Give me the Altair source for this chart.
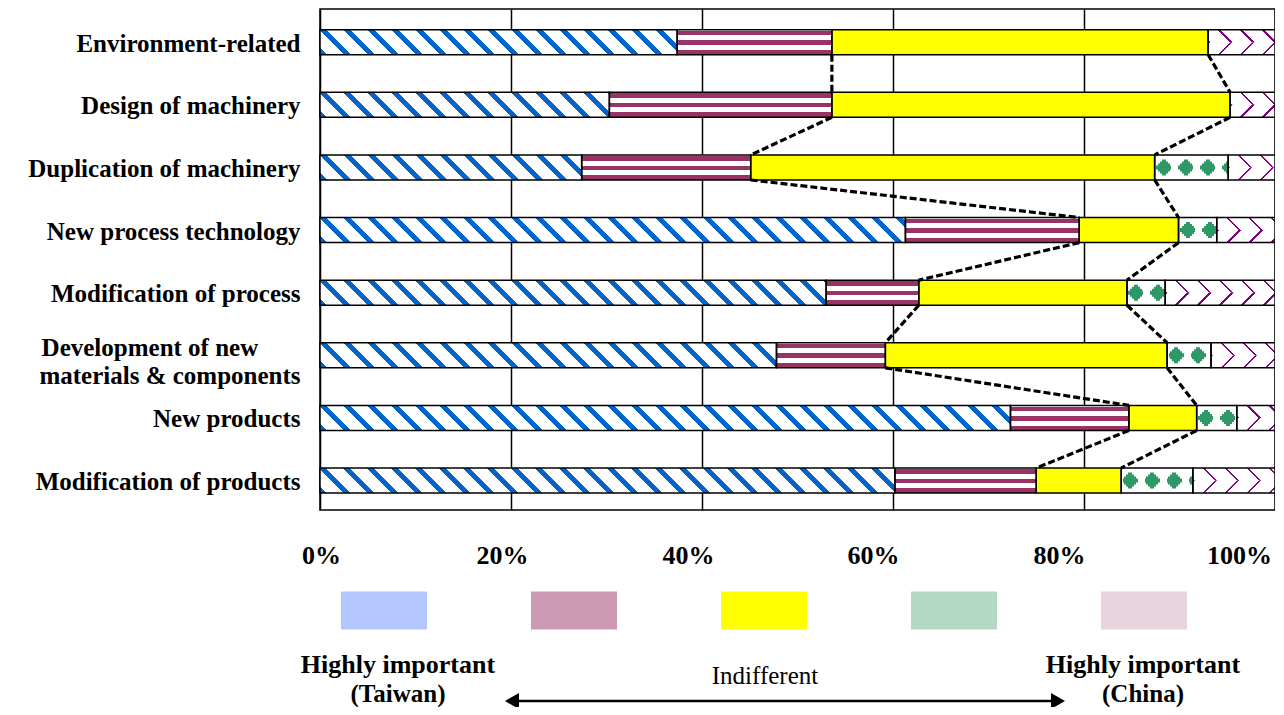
import json
import altair as alt

# ---------------- data ----------------
categories = [
    "Environment-related",
    "Design of machinery",
    "Duplication of machinery",
    "New process technology",
    "Modification of process",
    "Development of new\nmaterials & components",
    "New products",
    "Modification of products",
]
levels = [
    "Highly important (Taiwan)",
    "Important (Taiwan)",
    "Indifferent",
    "Important (China)",
    "Highly important (China)",
]
taiwan_high = [37.4, 30.3, 27.4, 61.3, 53.0, 47.8, 72.3, 60.2]
taiwan_imp = [16.2, 23.3, 17.7, 18.2, 9.7, 11.4, 12.4, 14.8]
indifferent = [39.4, 41.7, 42.3, 10.4, 21.8, 29.5, 7.1, 8.9]
china_imp = [0.0, 0.0, 7.7, 4.0, 4.0, 4.6, 4.2, 7.5]
china_high = [7.0, 4.7, 4.9, 6.1, 11.5, 6.7, 4.0, 8.6]
x_ticks = [0, 20, 40, 60, 80, 100]
legend_colors = ["#b3c6ff", "#cc99b3", "#ffff00", "#b3d9c6", "#e8d4de"]
notes_left = ["Highly important", "(Taiwan)"]
notes_mid = ["Indifferent"]
notes_right = ["Highly important", "(China)"]

shares = [taiwan_high, taiwan_imp, indifferent, china_imp, china_high]

# ---------------- layout / style ----------------
PLOT_W, PLOT_H = 955, 501
PX = PLOT_W / 100.0
ROW = PLOT_H / len(categories)
BT, BB = 0.33, 0.73
H = (BB - BT) * ROW
FONT = "Liberation Serif"
BLUE, PURPLE, YELLOW, GREEN, VIOLET, WHITE = "#0066cc", "#993366", "#ffff00", "#2e9966", "#800080", "#ffffff"
DIAMOND = (("ga", 8.0, 4.0), ("gb", 6.0, 8.0), ("gc", 4.0, 12.0), ("gd", 2.0, 15.0))


def stripe_stops(length, period, width, phase, on, off=WHITE):
    pts = [(0.0, off)]
    a = (phase % period) - period
    while a < length:
        b = a + width
        for s, c in ((a, off), (a, on), (b, on), (b, off)):
            pts.append((min(max(s / length, 0.0), 1.0), c))
        a += period
    pts.append((1.0, off))
    return [{"offset": round(o, 5), "color": c} for o, c in pts]


def diag_down(W, h, period, width, color, phase=0.0):
    # "\" stripes, s = x + h - y over [0, W + h]
    L = W + h * h / W
    k = (W + h) / L
    return {"gradient": "linear", "x1": 0, "y1": 1, "x2": k, "y2": 1 - k * h / W,
            "stops": stripe_stops(W + h, period, width, phase, color)}


def diag_up(W, h, period, width, color, phase=0.0):
    # "/" stripes, s = x + y over [0, W + h]
    L = W + h * h / W
    k = (W + h) / L
    return {"gradient": "linear", "x1": 0, "y1": 0, "x2": k, "y2": k * h / W,
            "stops": stripe_stops(W + h, period, width, phase, color)}


def vert_stripes(W, period, width, phase, color):
    return {"gradient": "linear", "x1": 0, "y1": 0, "x2": 1, "y2": 0,
            "stops": stripe_stops(W, period, width, phase, color)}


hstripes = {"gradient": "linear", "x1": 0, "y1": 0, "x2": 0, "y2": 1,
            "stops": stripe_stops(H, 9.5, 4.5, 1.2, PURPLE)}

segs = []
yellow_start, yellow_end = [], []
for i in range(len(categories)):
    start = 0.0
    for k, vals in enumerate(shares):
        v = vals[i]
        end = start + v
        if k == 2:
            yellow_start.append(start)
            yellow_end.append(end)
        if v > 0:
            W = v * PX
            mid = i + (BT + BB) / 2
            rec = {"cat": i, "lvl": k, "level": levels[k], "x0": start, "x1": end,
                   "yt": i + BT, "yb": i + BB, "ym": mid}
            if k == 0:
                rec["g"] = diag_down(W, H, 24, 7, BLUE)
            elif k == 1:
                rec["g"] = hstripes
            elif k == 2:
                rec["g"] = YELLOW
            else:
                rec["g"] = WHITE
            if k == 3:
                for key, hh, ww in DIAMOND:
                    rec[key] = vert_stripes(W, 22, ww, 9 - ww / 2, GREEN)
                    rec[key + "t"] = mid - hh / ROW
                    rec[key + "b"] = mid + hh / ROW
            if k == 4:
                rec["gu"] = diag_down(W, H / 2, 22, 2.2, VIOLET)
                rec["gl"] = diag_up(W, H / 2, 22, 2.2, VIOLET)
            segs.append(rec)
        start = end

conn = []
for i in range(len(categories) - 1):
    for edge in (yellow_start, yellow_end):
        conn.append({"a": edge[i], "b": edge[i + 1], "y": i + BB, "y2": i + 1 + BT})

seg_data = alt.Data(values=segs)
conn_data = alt.Data(values=conn)

xs = alt.Scale(domain=[0, 100], nice=False, zero=False)
ys = alt.Scale(domain=[0, len(categories)], reverse=True, nice=False, zero=False)

# multi-line label: pad the shorter first line with blank (non-trimmed) glyphs so that
# both lines start at about the same x, as in the original
label_list = []
for c in categories:
    parts = c.split("\n")
    if len(parts) > 1:
        label_list.append([parts[0] + "\u00a0\u2800\u2800", parts[1]])
    else:
        label_list.append(c)
y_label_expr = json.dumps(label_list, ensure_ascii=False) + "[floor(datum.value)]"
multi_idx = [i for i, c in enumerate(categories) if "\n" in c]

x_label_shift = {0: 1, 20: -9, 40: -14, 60: -20, 80: -25, 100: -36}
x_axis = alt.Axis(
    values=x_ticks, labelExpr="datum.value + '%'", grid=True, gridColor="black",
    gridWidth=1.5, gridOpacity=1, ticks=False, domain=False, labelFont=FONT,
    labelFontWeight="bold", labelFontSize=26, labelColor="black", labelPadding=32,
    labelFlush=False, labelOverlap=False, title=None, labelAlign="center",
    labelOffset={"condition": [{"test": "datum.value == %d" % t, "value": s}
                               for t, s in x_label_shift.items()], "value": 0},
)
y_axis = alt.Axis(
    values=[i + (BT + BB) / 2 for i in range(len(categories))], labelExpr=y_label_expr,
    grid=False, ticks=False, domain=False, labelFont=FONT, labelFontWeight="bold",
    labelFontSize=25, labelColor="black", labelPadding=20, labelLimit=600,
    labelLineHeight=28, labelOverlap=False, title=None,
    labelOffset={"condition": [{"test": "floor(datum.value) == %d" % m, "value": -8}
                               for m in multi_idx], "value": 1},
)


def pos(xf, x2f, yf, y2f):
    return dict(
        x=alt.X(xf + ":Q", scale=xs, axis=x_axis),
        x2=x2f,
        y=alt.Y(yf + ":Q", scale=ys, axis=y_axis),
        y2=y2f,
    )


def bars(filter_expr, yf, y2f, fillf):
    ch = alt.Chart(seg_data)
    if filter_expr:
        ch = ch.transform_filter(filter_expr)
    return ch.mark_bar().encode(
        fill=alt.Fill(fillf + ":N", scale=None), **pos("x0", "x1", yf, y2f)
    )


base = bars(None, "yt", "yb", "g")
green_layers = [bars("datum.lvl == 3", k + "t", k + "b", k) for k, _, _ in DIAMOND]
pink_up = bars("datum.lvl == 4", "yt", "ym", "gu")
pink_low = bars("datum.lvl == 4", "ym", "yb", "gl")

outline = alt.Chart(seg_data).mark_bar(fillOpacity=0, stroke="black", strokeWidth=1.5).encode(
    **pos("x0", "x1", "yt", "yb")
)

connectors = alt.Chart(conn_data).mark_rule(
    color="black", strokeWidth=3.2, strokeDash=[7, 3]
).encode(**pos("a", "b", "y", "y2"))

legend_layer = alt.Chart(seg_data).transform_filter("false").mark_bar().encode(
    color=alt.Color(
        "level:N",
        scale=alt.Scale(domain=levels, range=legend_colors),
        legend=alt.Legend(
            orient="none", legendX=21, legendY=558, direction="horizontal", title=None,
            labelExpr="''", symbolType="M-1,-0.442H1V0.442H-1Z", symbolSize=7396,
            symbolStrokeWidth=0, symbolOpacity=1, columnPadding=104, labelOffset=0,
            padding=0, columns=5,
        ),
    ),
    **pos("x0", "x1", "yt", "yb"),
)


def note(text, x, y, size, bold):
    return alt.Chart(alt.Data(values=[{"t": text}])).mark_text(
        font=FONT, fontSize=size, fontWeight="bold" if bold else "normal",
        color="black", align="center", baseline="middle",
    ).encode(x=alt.value(x), y=alt.value(y), text="t:N")


notes = [
    note(notes_left[0], 78, 656, 26, True),
    note(notes_left[1], 78, 685, 25, True),
    note(notes_mid[0], 445, 667, 25, False),
    note(notes_right[0], 823, 656, 26, True),
    note(notes_right[1], 823, 685, 25, True),
]

one = alt.Data(values=[{}])
arrow = [
    alt.Chart(one).mark_rule(color="black", strokeWidth=2.5).encode(
        x=alt.value(192), x2=alt.value(738), y=alt.value(692)),
    alt.Chart(one).mark_point(shape="triangle-left", filled=True, size=260, color="black", opacity=1).encode(
        x=alt.value(192), y=alt.value(692)),
    alt.Chart(one).mark_point(shape="triangle-right", filled=True, size=260, color="black", opacity=1).encode(
        x=alt.value(738), y=alt.value(692)),
]

chart = alt.layer(
    base, *green_layers, pink_up, pink_low, outline, connectors, legend_layer, *notes, *arrow
).properties(
    width=PLOT_W, height=PLOT_H,
    autosize=alt.AutoSizeParams(type="none"),
    padding={"left": 312, "top": 1, "right": 0, "bottom": 197},
    background="white",
).configure_view(stroke="black", strokeWidth=1.5)

chart.save("out.html", embed_options={"renderer": "svg", "actions": False})
